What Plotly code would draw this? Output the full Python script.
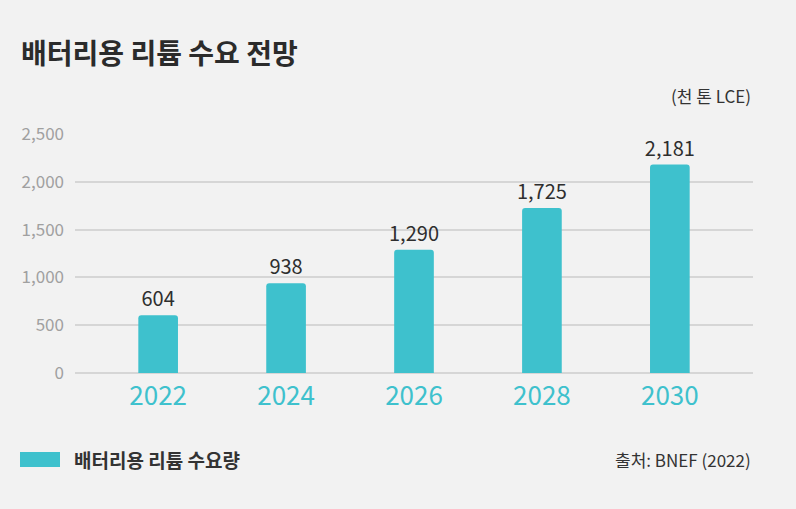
import plotly.graph_objects as go

years = ["2022", "2024", "2026", "2028", "2030"]
demand = [604, 938, 1290, 1725, 2181]
y_ticks = [0, 500, 1000, 1500, 2000, 2500]
y_tick_labels = ["0", "500", "1,000", "1,500", "2,000", "2,500"]

FONT = "Noto Sans CJK KR"
TEAL = "#3EC1CD"
BG = "#F2F2F2"

fig = go.Figure()
fig.add_trace(go.Bar(
    x=years, y=demand,
    marker=dict(color=TEAL, line=dict(width=0)),
    width=0.31,
    text=[f"{v:,}" for v in demand],
    textposition="outside",
    constraintext="none",
    textfont=dict(family=FONT, size=20, color="#2E2E2E"),
    cliponaxis=False,
    showlegend=False,
    hoverinfo="skip",
))

fig.update_layout(
    width=796, height=509,
    paper_bgcolor=BG, plot_bgcolor=BG,
    margin=dict(l=75, r=43, t=134, b=136),
    font=dict(family=FONT),
    barcornerradius=3,
    xaxis=dict(
        type="category", range=[-0.65, 4.65],
        showgrid=False, zeroline=False, showline=False,
        ticks="", tickfont=dict(family=FONT, size=26, color=TEAL),
        ticklabelstandoff=5,
    ),
    yaxis=dict(
        range=[0, 2500], tickvals=y_ticks, ticktext=y_tick_labels,
        showgrid=True, gridcolor="#D6D6D6", gridwidth=1.5,
        zeroline=True, zerolinecolor="#D6D6D6", zerolinewidth=1.5,
        showline=False, ticks="",
        tickfont=dict(family=FONT, size=17, color="#A0A0A0"),
        ticklabelstandoff=10,
    ),
    shapes=[dict(
        type="rect", xref="paper", yref="paper",
        x0=-55/678, x1=-15/678, y0=-94/239, y1=-79/239,
        fillcolor=TEAL, line=dict(width=0), layer="above",
    )],
    annotations=[
        dict(text="<b>배터리용 리튬 수요 전망</b>", xref="paper", yref="paper",
             x=-56/678, y=(373-52)/239, xanchor="left", yanchor="middle",
             showarrow=False, font=dict(family=FONT, size=28, color="#2B2B2B")),
        dict(text="(천 톤 LCE)", xref="paper", yref="paper",
             x=1.0, y=(373-95)/239, xanchor="right", yanchor="middle",
             showarrow=False, font=dict(family=FONT, size=17, color="#333333")),
        dict(text="<b>배터리용 리튬 수요량</b>", xref="paper", yref="paper",
             x=-3/678, y=(373-459)/239, xanchor="left", yanchor="middle",
             showarrow=False, font=dict(family=FONT, size=19, color="#333333")),
        dict(text="출처: BNEF (2022)", xref="paper", yref="paper",
             x=1.0, y=(373-459)/239, xanchor="right", yanchor="middle",
             showarrow=False, font=dict(family=FONT, size=17, color="#333333")),
    ],
)

fig.write_html(
    "out.html",
    config={"displayModeBar": False},
    post_script="document.body.style.margin='0';document.body.style.overflow='hidden';",
)
